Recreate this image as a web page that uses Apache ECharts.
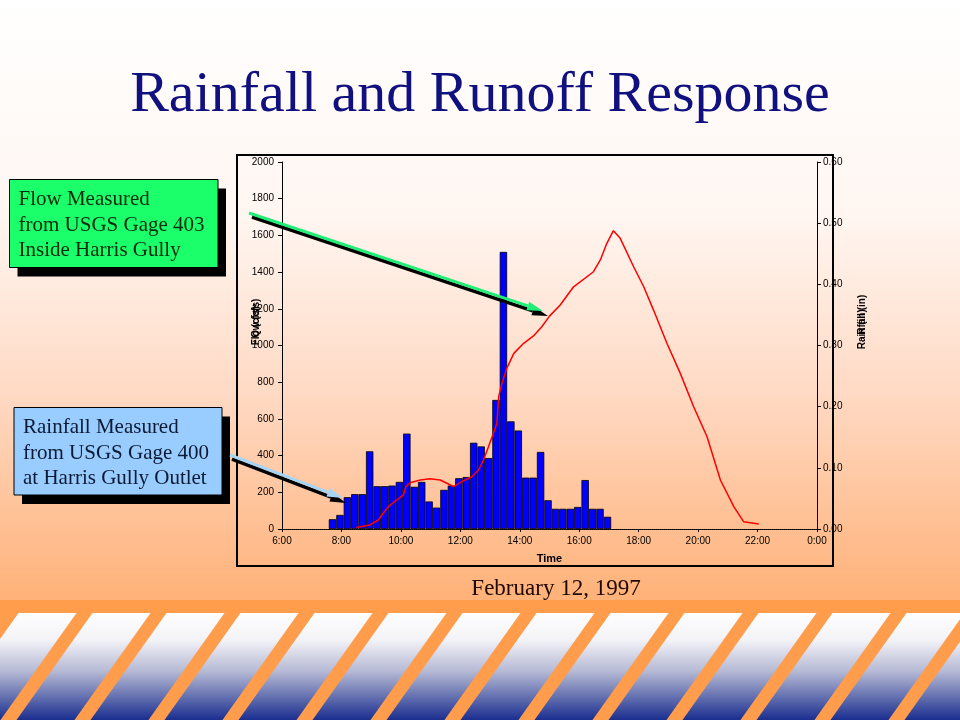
<!DOCTYPE html>
<html>
<head>
<meta charset="utf-8">
<script src="https://cdn.jsdelivr.net/npm/echarts@6/dist/echarts.min.js"></script>
<style>
html,body{margin:0;padding:0;background:#fff;}
#chart{width:960px;height:720px;}
</style>
</head>
<body>
<div id="chart"></div>
<script>
// ---- Data ----
// Rainfall, 15-minute totals (inches), centre time in decimal hours
const rainTimes = [7.70, 7.95, 8.20, 8.45, 8.70, 8.95, 9.20, 9.45, 9.70, 9.95,
  10.20, 10.45, 10.70, 10.95, 11.20, 11.45, 11.70, 11.95, 12.20, 12.45,
  12.70, 12.95, 13.20, 13.45, 13.70, 13.95, 14.20, 14.45, 14.70, 14.95,
  15.20, 15.45, 15.70, 15.95, 16.20, 16.45, 16.70, 16.95];
const rainValues = [0.016, 0.023, 0.052, 0.057, 0.057, 0.127, 0.070, 0.070, 0.071, 0.077,
  0.156, 0.069, 0.077, 0.045, 0.035, 0.064, 0.071, 0.083, 0.085, 0.141,
  0.135, 0.116, 0.211, 0.453, 0.176, 0.161, 0.084, 0.084, 0.126, 0.047,
  0.033, 0.033, 0.033, 0.036, 0.080, 0.033, 0.033, 0.020];
// Flow (cfs) at USGS Gage 403, time in decimal hours
const flowTimes = [8.50, 8.96, 9.24, 9.36, 9.58, 9.86, 10.08, 10.17, 10.31, 10.65,
  10.98, 11.32, 11.60, 11.77, 12.05, 12.39, 12.61, 12.78, 12.95, 13.11,
  13.23, 13.29, 13.40, 13.57, 13.80, 14.13, 14.46, 14.74, 15.00, 15.36,
  15.81, 16.48, 16.71, 16.93, 17.15, 17.38, 17.83, 18.17, 18.50, 18.95,
  19.40, 19.85, 20.30, 20.75, 21.20, 21.53, 22.04];
const flowValues = [8, 22, 49, 76, 122, 158, 185, 231, 252, 267,
  274, 267, 245, 231, 258, 285, 321, 376, 449, 521,
  576, 721, 794, 878, 957, 1012, 1052, 1102, 1160, 1221,
  1320, 1402, 1466, 1557, 1626, 1584, 1429, 1320, 1193, 1012,
  848, 666, 503, 267, 122, 40, 27];
const xTickLabels = ['6:00', '8:00', '10:00', '12:00', '14:00', '16:00', '18:00', '20:00', '22:00', '0:00'];

const titleText = 'Rainfall and Runoff Response';
const dateText = 'February 12, 1997';
const flowNote = ['Flow Measured', 'from USGS Gage 403', 'Inside Harris Gully'];
const rainNote = ['Rainfall Measured', 'from USGS Gage 400', 'at Harris Gully Outlet'];

// ---- Build ----
const rainData = rainTimes.map((t, i) => [t, rainValues[i]]);
const flowData = flowTimes.map((t, i) => [t, flowValues[i]]);

function arrow(x1, y1, x2, y2, color, w, z) {
  const ang = Math.atan2(y2 - y1, x2 - x1);
  const L = 16, H = 4.5;
  const bx = x2 - L * Math.cos(ang), by = y2 - L * Math.sin(ang);
  const px = -Math.sin(ang), py = Math.cos(ang);
  return [
    { type: 'line', z: z, shape: { x1: x1, y1: y1, x2: bx, y2: by }, style: { stroke: color, lineWidth: w } },
    { type: 'polygon', z: z, shape: { points: [[x2, y2], [bx + px * H, by + py * H], [bx - px * H, by - py * H]] }, style: { fill: color } }
  ];
}

const graphics = [];
// slide background
graphics.push({ type: 'rect', z: -20, shape: { x: 0, y: 0, width: 960, height: 720 },
  style: { fill: new echarts.graphic.LinearGradient(0, 0, 0, 1, [
    { offset: 0, color: '#ffffff' }, { offset: 0.3, color: '#fff6f1' },
    { offset: 0.55, color: '#ffd9c3' }, { offset: 0.8, color: '#ffb681' },
    { offset: 1, color: '#ff9d4d' }]) } });
// bottom striped band
graphics.push({ type: 'rect', z: -19, shape: { x: 0, y: 600, width: 960, height: 120 }, style: { fill: '#ff9d4d' } });
const bandTop = 613, bandBot = 720, slant = 76, period = 74, sw = 16, first = 76.5;
const panelGrad = new echarts.graphic.LinearGradient(0, 0, 0, 1, [
  { offset: 0, color: '#ffffff' }, { offset: 0.25, color: '#f3f3f7' },
  { offset: 0.55, color: '#b4b8d4' }, { offset: 1, color: '#1a2e8f' }]);
for (let k = -1; k < 14; k++) {
  const l = first + k * period + sw, r = first + (k + 1) * period;
  graphics.push({ type: 'polygon', z: -18, shape: { points: [[l, bandTop], [r, bandTop], [r - slant, bandBot], [l - slant, bandBot]] },
    style: { fill: panelGrad } });
}
// chart box
graphics.push({ type: 'rect', z: -5, shape: { x: 237, y: 155, width: 596, height: 411 }, style: { fill: 'rgba(0,0,0,0)', stroke: '#000', lineWidth: 2 } });
// title
graphics.push({ type: 'text', z: 10, style: { text: titleText, x: 480, y: 96, align: 'center', verticalAlign: 'middle',
  font: '58px "Liberation Serif", "Times New Roman", serif', fill: '#10107f' } });
// date
graphics.push({ type: 'text', z: 10, style: { text: dateText, x: 556, y: 589, align: 'center', verticalAlign: 'middle',
  font: '23px "Liberation Serif", "Times New Roman", serif', fill: '#1e0800' } });
// axis titles (overlapping, as in the reference)
[['Flow (cfs)', 256], ['Q (cfs)', 256]].forEach(a => graphics.push({ type: 'text', z: 10, x: a[1], y: 322, rotation: Math.PI / 2,
  style: { text: a[0], x: 0, y: 0, align: 'center', verticalAlign: 'middle', font: 'bold 10px "Liberation Sans", Arial, sans-serif', fill: '#000' } }));
[['Rainfall (in)', 862], ['R (in)', 862]].forEach(a => graphics.push({ type: 'text', z: 10, x: a[1], y: 322, rotation: Math.PI / 2,
  style: { text: a[0], x: 0, y: 0, align: 'center', verticalAlign: 'middle', font: 'bold 10px "Liberation Sans", Arial, sans-serif', fill: '#000' } }));
// annotation boxes
function noteBox(x, y, w, h, fill, lines, color) {
  graphics.push({ type: 'rect', z: 20, shape: { x: x + 8, y: y + 9, width: w, height: h }, style: { fill: '#000' } });
  graphics.push({ type: 'rect', z: 21, shape: { x: x, y: y, width: w, height: h }, style: { fill: fill, stroke: '#000', lineWidth: 1 } });
  lines.forEach((t, i) => graphics.push({ type: 'text', z: 22, style: { text: t, x: x + 9, y: y + 20 + i * 25.5, align: 'left', verticalAlign: 'middle',
    font: '21px "Liberation Serif", "Times New Roman", serif', fill: color } }));
}
noteBox(9.5, 179.5, 208.5, 88, '#1aff6a', flowNote, '#0d2a0d');
noteBox(14, 407.5, 208, 87.5, '#99ccff', rainNote, '#0d1a33');
// arrows
arrow(252, 217, 548, 316, '#000', 3.5, 30).forEach(e => graphics.push(e));
arrow(249, 213, 543, 311, '#22ee77', 3, 31).forEach(e => graphics.push(e));
arrow(232, 459, 346, 503, '#000', 3.5, 30).forEach(e => graphics.push(e));
arrow(230, 455, 343, 498, '#a8d4f4', 3, 31).forEach(e => graphics.push(e));

const axisFont = { fontFamily: '"Liberation Sans", Arial, sans-serif', fontSize: 10, color: '#000' };

const option = {
  animation: false,
  grid: { left: 282, right: 143, top: 162, bottom: 191, containLabel: false },
  xAxis: [{
    type: 'value', min: 6, max: 24, interval: 2, position: 'bottom',
    axisLine: { show: true, lineStyle: { color: '#000', type: 'dotted', width: 1 } },
    axisTick: { show: true, length: 3, lineStyle: { color: '#000' } },
    axisLabel: Object.assign({ margin: 7, formatter: v => xTickLabels[Math.round((v - 6) / 2)] }, axisFont),
    splitLine: { show: false },
    name: 'Time', nameLocation: 'middle', nameGap: 24,
    nameTextStyle: { fontFamily: '"Liberation Sans", Arial, sans-serif', fontSize: 11, fontWeight: 'bold', color: '#000' }
  }, {
    type: 'value', min: 6, max: 24, interval: 2, position: 'top',
    axisLine: { show: true, lineStyle: { color: '#000', type: 'dotted', width: 1 } },
    axisTick: { show: false }, axisLabel: { show: false }, splitLine: { show: false }
  }],
  yAxis: [{
    type: 'value', min: 0, max: 2000, interval: 200, position: 'left',
    axisLine: { show: true, lineStyle: { color: '#000', width: 1 } },
    axisTick: { show: true, length: 4, lineStyle: { color: '#000' } },
    axisLabel: Object.assign({ margin: 8, formatter: v => String(v) }, axisFont),
    splitLine: { show: false }
  }, {
    type: 'value', min: 0, max: 0.6, interval: 0.1, position: 'right',
    axisLine: { show: true, lineStyle: { color: '#000', width: 1 } },
    axisTick: { show: true, length: 4, lineStyle: { color: '#000' } },
    axisLabel: Object.assign({ margin: 6, formatter: v => v.toFixed(2) }, axisFont),
    splitLine: { show: false }
  }],
  series: [{
    name: 'Rainfall', type: 'bar', xAxisIndex: 0, yAxisIndex: 1, data: rainData,
    barWidth: 7.4, z: 2,
    itemStyle: { color: '#0000ff', borderColor: '#000', borderWidth: 0.8 }
  }, {
    name: 'Flow', type: 'line', xAxisIndex: 0, yAxisIndex: 0, data: flowData,
    showSymbol: false, symbol: 'none', z: 3,
    lineStyle: { color: '#ff0000', width: 1.5 }
  }],
  graphic: graphics
};

const chart = echarts.init(document.getElementById('chart'), null, { renderer: 'canvas' });
chart.setOption(option);
</script>
</body>
</html>
